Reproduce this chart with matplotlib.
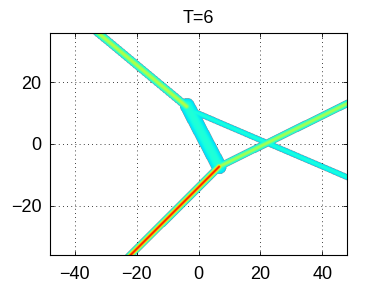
import numpy as np
import matplotlib
matplotlib.use('Agg')
import matplotlib.pyplot as plt

plt.rcParams['font.family'] = ['Liberation Sans', 'DejaVu Sans']

# ridge segments (x0, y0) -> (x1, y1), peak height, width
seg_x0 = [-40.0, -3.8, -2.0, 6.5, 6.5]
seg_y0 = [42.0, 12.3, 10.5, -7.5, -7.5]
seg_x1 = [-4.0, 6.5, 52.0, 52.0, -30.0]
seg_y1 = [12.0, -7.5, -12.7, 15.0, -44.0]
peak = [0.42, 0.17, 0.16, 0.40, 0.86]
width = [0.95, 3.1, 1.25, 0.85, 0.7]

x_lim = [-48, 48]
y_lim = [-36, 36]
x_ticks = [-40, -20, 0, 20, 40]
y_ticks = [-20, 0, 20]

# build field on a grid as max of sech^2 ridges
xs = np.linspace(x_lim[0], x_lim[1], 600)
ys = np.linspace(y_lim[0], y_lim[1], 450)
X, Y = np.meshgrid(xs, ys)
U = np.zeros_like(X)
for i in range(len(seg_x0)):
    ax_, ay_ = seg_x0[i], seg_y0[i]
    dx, dy = seg_x1[i] - ax_, seg_y1[i] - ay_
    t = ((X - ax_) * dx + (Y - ay_) * dy) / (dx * dx + dy * dy)
    t = np.clip(t, 0, 1)
    d = np.hypot(X - (ax_ + t * dx), Y - (ay_ + t * dy))
    U = np.maximum(U, peak[i] / np.cosh(d / width[i]) ** 2)

fig = plt.figure(figsize=(3.84, 2.88), dpi=100)
ax = fig.add_axes([0.130, 0.115, 0.774, 0.771])
ax.set_axisbelow(True)
Um = np.ma.masked_less(U, 0.1)
ax.imshow(Um, origin='lower', extent=[x_lim[0], x_lim[1], y_lim[0], y_lim[1]],
          cmap='jet', vmin=-0.36, vmax=1.0, aspect='auto', interpolation='antialiased',
          zorder=2)

ax.set_xlim(x_lim)
ax.set_ylim(y_lim)
ax.set_xticks(x_ticks)
ax.set_yticks(y_ticks)
ax.tick_params(direction='in', length=3, width=0.6, labelsize=13, top=True, right=True)
ax.tick_params(axis='x', pad=8)
ax.tick_params(axis='y', pad=6)
ax.grid(True, color='black', linestyle=(0, (1, 4)), linewidth=0.6)
for s in ax.spines.values():
    s.set_linewidth(0.8)
    s.set_zorder(3)
ax.set_title('T=6', fontsize=13, pad=7)

plt.savefig('out.png', dpi=100, facecolor='white')
